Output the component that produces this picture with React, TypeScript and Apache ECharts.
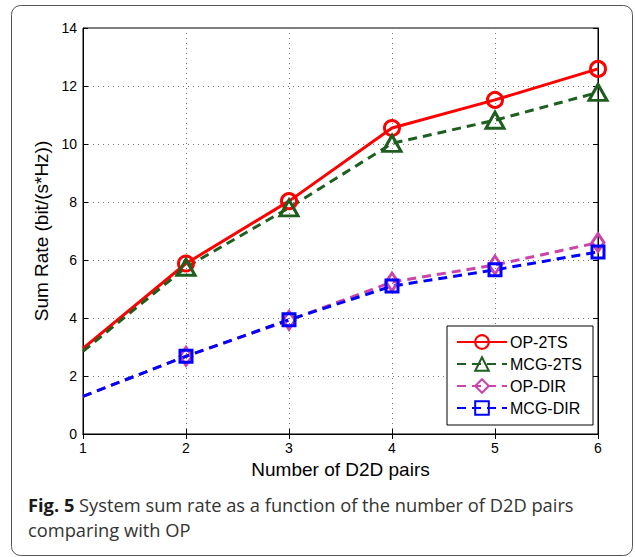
import React, { useEffect, useRef } from "react";
import * as echarts from "echarts";

const xValues = [1, 2, 3, 4, 5, 6];
const op2ts = [2.95, 5.88, 8.03, 10.55, 11.52, 12.59];
const mcg2ts = [2.85, 5.75, 7.8, 10.02, 10.82, 11.78];
const opDir = [1.3, 2.68, 3.92, 5.24, 5.83, 6.6];
const mcgDir = [1.3, 2.68, 3.94, 5.1, 5.66, 6.28];
const seriesNames = ["OP-2TS", "MCG-2TS", "OP-DIR", "MCG-DIR"];
const xAxisTitle = "Number of D2D pairs";
const yAxisTitle = "Sum Rate (bit/(s*Hz))";
const captionBold = "Fig. 5";
const captionLine1 = " System sum rate as a function of the number of D2D pairs";
const captionLine2 = "comparing with OP";

const FONT = "'Liberation Sans', Arial, Helvetica, sans-serif";
const CAP_FONT = "'Open Sans', sans-serif";

function makeSeries(
  name: string,
  values: number[],
  color: string,
  dashed: boolean,
  symbol: string,
  symbolSize: number | number[]
) {
  return {
    name,
    type: "line",
    data: values.map((v, i) =>
      i === 0 ? { value: [xValues[i], v], symbol: "none" } : [xValues[i], v]
    ),
    symbol,
    symbolSize,
    showAllSymbol: true,
    lineStyle: { color, width: 3, type: dashed ? [9, 6] : "solid" },
    itemStyle: { color: "rgba(255,255,255,0)", borderColor: color, borderWidth: 3 },
    emphasis: { disabled: true },
    z: 3,
  };
}

export default function App() {
  const ref = useRef<HTMLDivElement>(null);
  useEffect(() => {
    if (!ref.current) return;
    const chart = echarts.init(ref.current, undefined, { renderer: "svg" });
    const axisCommon = {
      axisLine: { show: true, lineStyle: { color: "#000", width: 1 } },
      axisTick: { show: true, inside: true, length: 5, lineStyle: { color: "#000" } },
      splitLine: { show: true, lineStyle: { color: "#777", width: 1, type: [1, 4] } },
    };
    chart.setOption({
      animation: false,
      backgroundColor: "#fff",
      grid: { left: 83, right: 37, top: 28, bottom: 123, show: true, borderColor: "#000", borderWidth: 1, backgroundColor: "transparent" },
      xAxis: [
        {
          type: "value",
          min: 1,
          max: 6,
          interval: 1,
          ...axisCommon,
          axisLabel: { color: "#000", fontSize: 14, fontFamily: FONT, margin: 7 },
          name: xAxisTitle,
          nameLocation: "middle",
          nameGap: 22,
          nameTextStyle: { color: "#000", fontSize: 19, fontFamily: FONT, verticalAlign: "top" },
        },
        {
          type: "value",
          position: "top",
          min: 1,
          max: 6,
          interval: 1,
          axisLine: { show: true, lineStyle: { color: "#000" } },
          axisTick: { show: true, inside: true, length: 5, lineStyle: { color: "#000" } },
          axisLabel: { show: false },
          splitLine: { show: false },
        },
      ],
      yAxis: [
        {
          type: "value",
          min: 0,
          max: 14,
          interval: 2,
          ...axisCommon,
          axisLabel: { color: "#000", fontSize: 14, fontFamily: FONT, margin: 6 },
          name: yAxisTitle,
          nameLocation: "middle",
          nameGap: 29,
          nameRotate: 90,
          nameTextStyle: { color: "#000", fontSize: 19, fontFamily: FONT },
        },
        {
          type: "value",
          position: "right",
          min: 0,
          max: 14,
          interval: 2,
          axisLine: { show: true, lineStyle: { color: "#000" } },
          axisTick: { show: true, inside: true, length: 5, lineStyle: { color: "#000" } },
          axisLabel: { show: false },
          splitLine: { show: false },
        },
      ],
      legend: {
        orient: "vertical",
        left: 447,
        top: 326,
        width: 150,
        data: seriesNames,
        backgroundColor: "#fff",
        borderColor: "#000",
        borderWidth: 1,
        padding: [8, 11, 9, 9],
        itemWidth: 50,
        itemHeight: 17,
        itemGap: 6,
        textStyle: { color: "#000", fontSize: 16, fontFamily: FONT, padding: [0, 0, 0, -2] },
      },
      series: [
        makeSeries(seriesNames[0], op2ts, "#ff0000", false, "circle", 15),
        makeSeries(seriesNames[1], mcg2ts, "#1e5e1e", true, "triangle", [18, 16]),
        makeSeries(seriesNames[2], opDir, "#cc44aa", true, "diamond", [12, 18]),
        makeSeries(seriesNames[3], mcgDir, "#0000ff", true, "rect", 12),
      ],
      graphic: [
        {
          type: "rect",
          shape: { x: 11.5, y: 5.5, width: 621, height: 550, r: 9 },
          style: { fill: "none", stroke: "#555", lineWidth: 1 },
          silent: true,
          z: -10,
        },
        {
          type: "text",
          left: 28,
          top: 495,
          style: {
            text: "{b|" + captionBold + "}{n|" + captionLine1 + "}",
            rich: {
              b: { fontFamily: CAP_FONT, fontWeight: "bold", fontSize: 18.3, fill: "#1a1a1a" },
              n: { fontFamily: CAP_FONT, fontSize: 18.3, fill: "#333" },
            },
          },
        },
        {
          type: "text",
          left: 28,
          top: 520,
          style: {
            text: captionLine2,
            fontFamily: CAP_FONT,
            fontSize: 18.3,
            fill: "#333",
          },
        },
      ],
    });
    return () => chart.dispose();
  }, []);
  return (
    <div
      ref={ref}
      style={{ position: "absolute", left: 0, top: 0, width: 635, height: 557 }}
    />
  );
}
